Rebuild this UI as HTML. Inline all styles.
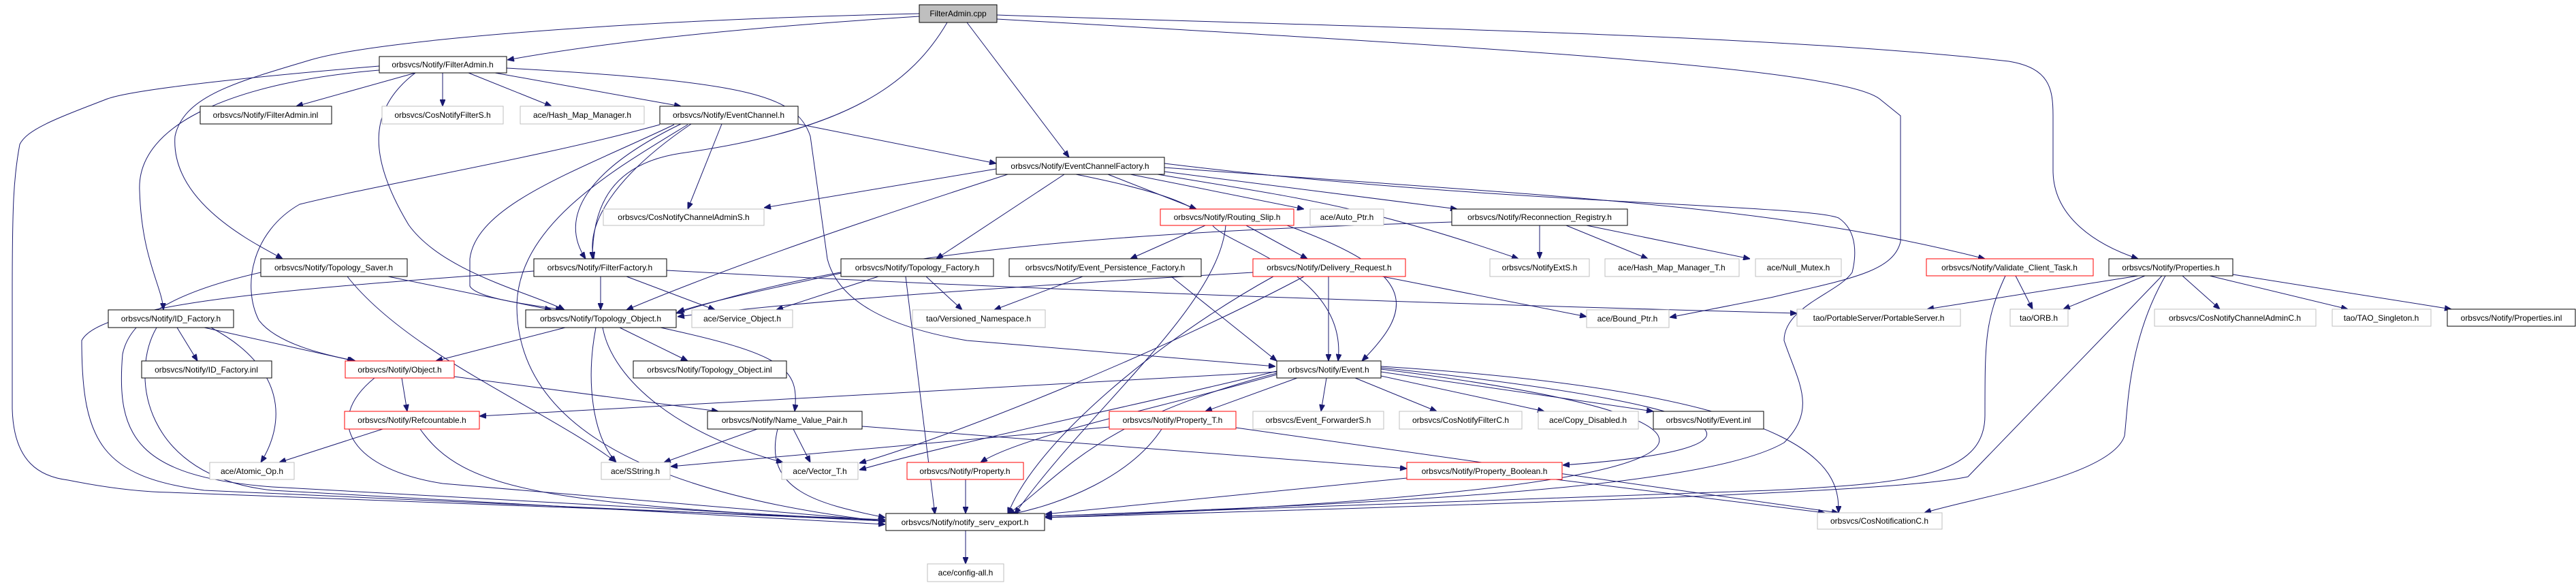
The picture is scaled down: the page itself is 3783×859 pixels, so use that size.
<!DOCTYPE html>
<html><head><meta charset="utf-8"><style>
html,body{margin:0;padding:0;background:#fff;}
svg{display:block;}
text{font-family:"Liberation Sans",sans-serif;font-size:12px;fill:#000;text-anchor:middle;}
.e{fill:none;stroke:#191970;stroke-width:1;}
.b{fill:#fff;stroke:#000;stroke-width:1;}
.g{fill:#fff;stroke:#bfbfbf;stroke-width:1;}
.r{fill:#fff;stroke:#ff0000;stroke-width:1;}
</style></head><body>
<svg width="3783" height="859" viewBox="0 0 3783 859" xmlns="http://www.w3.org/2000/svg">
<defs><marker id="a" markerWidth="10" markerHeight="8" refX="10" refY="4" orient="auto" markerUnits="userSpaceOnUse"><path d="M0,0 L10,4 L0,8 z" fill="#191970" stroke="#191970"/></marker></defs>
<g class="e" marker-end="url(#a)">
<!-- FilterAdmin.cpp -->
<path d="M1350,24 C1100,40 900,60 745,88"/>
<path d="M1350,20 C900,30 550,60 456,88 C350,120 270,140 257,200 C250,300 380,360 415,380"/>
<path d="M1420,33 L1570,231"/>
<path d="M1391,33 C1340,120 1250,190 1000,225 C900,240 870,300 870,380"/>
<path d="M1464,22 C2000,40 2600,50 2950,90 C3010,100 3015,130 3015,170 L3015,250 C3015,320 3080,360 3140,380"/>
<path d="M1464,28 C2200,70 2700,100 2760,145 L2791,170 L2791,355 C2780,400 2713,410 2600,437 L2452,466"/>
<!-- FilterAdmin.h -->
<path d="M610,107 L435,156"/>
<path d="M650,107 L650,156"/>
<path d="M688,107 L810,156"/>
<path d="M727,107 L1000,156"/>
<path d="M557,97 C400,110 200,130 158,145 C80,175 40,190 29,212 C20,260 18,300 18,430 L18,600 C20,680 60,700 100,705 C150,715 200,722 249,723 L1300,763"/>
<path d="M557,103 C350,120 200,180 205,280 C208,380 238,420 240,455"/>
<path d="M610,107 C540,160 540,230 600,330 C650,400 780,430 829,455"/>
<path d="M744,100 C1100,120 1170,140 1190,200 L1215,380 C1230,440 1300,480 1420,500 L1873,538"/>
<!-- EventChannel.h -->
<path d="M1172,182 L1463,240"/>
<path d="M1060,182 L1010,307"/>
<path d="M1000,182 C860,250 820,320 860,380"/>
<path d="M1015,182 C900,260 860,330 872,380"/>
<path d="M969,183 C800,230 560,270 440,300 C370,340 355,420 380,470 C410,510 500,525 522,530"/>
<path d="M990,183 C850,250 700,300 690,380 L690,420 C700,440 800,450 826,455"/>
<path d="M1010,183 C900,250 760,330 759,450 C760,600 900,720 1300,766"/>
<!-- EventChannelFactory.h -->
<path d="M1463,248 L1122,305"/>
<path d="M1480,256 C1250,330 1050,400 920,455"/>
<path d="M1563,256 L1375,380"/>
<path d="M1627,256 L1757,307"/>
<path d="M1660,256 L1915,307"/>
<path d="M1710,252 L2140,307"/>
<path d="M1700,256 C1900,290 2000,300 2230,380"/>
<path d="M1710,246 C2300,290 2600,300 2915,380"/>
<path d="M1580,256 C1700,280 1760,300 1780,330 C1800,360 1980,400 1965,530"/>
<path d="M1710,240 C2200,300 2650,300 2700,320 C2730,340 2725,380 2720,400 C2700,430 2620,450 2620,500 C2640,560 2670,600 2620,650 C2500,720 2000,740 1535,758"/>
<!-- Reconnection_Registry.h -->
<path d="M2261,331 L2261,380"/>
<path d="M2300,331 L2420,380"/>
<path d="M2330,331 L2570,380"/>
<path d="M2132,326 C1700,340 1300,360 993,460"/>
<!-- Routing_Slip.h -->
<path d="M1770,331 L1660,380"/>
<path d="M1830,331 L1920,380"/>
<path d="M1890,331 C2080,400 2080,450 2000,530"/>
<path d="M1800,331 C1790,450 1600,600 1490,755"/>
<!-- Topology_Factory.h -->
<path d="M1360,406 L1413,455"/>
<path d="M1240,400 C1150,420 1050,440 995,458"/>
<path d="M1290,406 L1140,455"/>
<path d="M1330,406 L1373,755"/>
<!-- Event_Persistence_Factory.h -->
<path d="M1590,406 L1460,455"/>
<path d="M1720,406 L1875,530"/>
<!-- Delivery_Request.h -->
<path d="M1951,406 L1951,530"/>
<path d="M2030,406 L2330,465"/>
<path d="M1840,400 C1500,420 1200,440 995,465"/>
<path d="M1870,406 C1700,500 1520,650 1480,755"/>
<path d="M1915,406 C1700,520 1400,640 1262,680"/>
<!-- Topology_Saver.h -->
<path d="M570,406 L810,455"/>
<path d="M383,400 C250,430 190,470 180,520 C170,640 200,700 400,715 L1300,765"/>
<path d="M510,406 C600,520 800,600 904,678"/>
<!-- FilterFactory.h -->
<path d="M882,406 L882,455"/>
<path d="M920,406 L1050,455"/>
<path d="M784,398 C500,420 150,440 120,500 C120,650 150,700 300,720 L1300,765"/>
<path d="M979,397 C1400,420 1900,440 2639,460"/>
<!-- ID_Factory.h -->
<path d="M260,481 L290,530"/>
<path d="M300,481 L520,530"/>
<path d="M310,481 C420,540 420,620 383,679"/>
<path d="M230,481 C190,550 210,700 400,720 L1300,770"/>
<!-- Topology_Object.h -->
<path d="M830,481 L640,530"/>
<path d="M910,481 L1010,530"/>
<path d="M970,481 C1150,520 1175,540 1167,604"/>
<path d="M875,481 C860,560 870,640 905,679"/>
<path d="M885,481 C900,560 1000,640 1150,679"/>
<!-- Object.h -->
<path d="M590,555 L598,604"/>
<path d="M667,553 L1055,604"/>
<path d="M550,555 C470,620 520,690 650,710 L1300,765"/>
<!-- Refcountable.h -->
<path d="M562,630 L410,679"/>
<path d="M617,630 C680,720 800,740 1300,765"/>
<!-- Name_Value_Pair.h -->
<path d="M1112,630 L975,679"/>
<path d="M1165,630 L1190,679"/>
<path d="M1142,630 C1120,720 1200,740 1300,760"/>
<path d="M1266,626 L2066,688"/>
<!-- Event.h -->
<path d="M1875,546 L704,611"/>
<path d="M1905,555 L1770,604"/>
<path d="M1948,555 L1940,604"/>
<path d="M1990,555 L2110,604"/>
<path d="M2028,552 L2268,604"/>
<path d="M2028,546 L2428,604"/>
<path d="M1875,550 C1700,600 1500,640 1440,679"/>
<path d="M1875,548 C1600,620 1560,700 1480,755"/>
<path d="M1875,545 C1650,600 1400,650 1262,690"/>
<path d="M2028,540 C2600,600 2620,660 2295,683"/>
<path d="M2028,538 C2700,580 2700,700 2700,753"/>
<path d="M2028,542 C2650,620 2620,720 1535,760"/>
<!-- Property_T.h -->
<path d="M1629,627 L985,685"/>
<path d="M1706,630 C1660,700 1560,740 1485,755"/>
<path d="M1815,628 L2700,753"/>
<!-- Property.h / Property_Boolean -->
<path d="M1418,704 L1418,754"/>
<path d="M2066,702 L1535,755"/>
<path d="M2285,704 L2680,753"/>
<!-- Validate_Client_Task.h -->
<path d="M2960,405 L2985,454"/>
<path d="M2945,405 C2915,470 2915,500 2915,610 C2915,700 2800,710 2600,720 L1535,758"/>
<!-- Properties.h -->
<path d="M3140,405 L2830,454"/>
<path d="M3150,405 L3030,454"/>
<path d="M3205,405 L3260,454"/>
<path d="M3245,405 L3448,454"/>
<path d="M3279,403 L3600,454"/>
<path d="M3175,405 L2890,700 C2800,720 2400,735 1535,760"/>
<path d="M3180,405 C3125,500 3125,600 3120,640 C3100,700 2900,730 2826,753"/>
<!-- notify_serv_export -->
<path d="M1418,779 L1418,828"/>
</g>
<!-- nodes -->
<rect x="1350" y="7" width="114" height="26" fill="#bfbfbf" stroke="#000"/><text x="1407" y="24">FilterAdmin.cpp</text>
<rect class="b" x="557" y="83" width="187" height="24"/><text x="650" y="99">orbsvcs/Notify/FilterAdmin.h</text>
<rect class="b" x="294" y="156" width="193" height="26"/><text x="390" y="173">orbsvcs/Notify/FilterAdmin.inl</text>
<rect class="g" x="561" y="156" width="178" height="26"/><text x="650" y="173">orbsvcs/CosNotifyFilterS.h</text>
<rect class="g" x="764" y="156" width="182" height="26"/><text x="855" y="173">ace/Hash_Map_Manager.h</text>
<rect class="b" x="969" y="156" width="203" height="26"/><text x="1070" y="173">orbsvcs/Notify/EventChannel.h</text>
<rect class="b" x="1463" y="231" width="247" height="25"/><text x="1586" y="248">orbsvcs/Notify/EventChannelFactory.h</text>
<rect class="g" x="886" y="307" width="236" height="24"/><text x="1004" y="323">orbsvcs/CosNotifyChannelAdminS.h</text>
<rect class="r" x="1704" y="307" width="196" height="24"/><text x="1802" y="323">orbsvcs/Notify/Routing_Slip.h</text>
<rect class="g" x="1924" y="307" width="108" height="24"/><text x="1978" y="323">ace/Auto_Ptr.h</text>
<rect class="b" x="2132" y="307" width="258" height="24"/><text x="2261" y="323">orbsvcs/Notify/Reconnection_Registry.h</text>
<rect class="b" x="383" y="380" width="215" height="26"/><text x="490" y="397">orbsvcs/Notify/Topology_Saver.h</text>
<rect class="b" x="784" y="380" width="195" height="26"/><text x="881" y="397">orbsvcs/Notify/FilterFactory.h</text>
<rect class="b" x="1235" y="380" width="224" height="26"/><text x="1347" y="397">orbsvcs/Notify/Topology_Factory.h</text>
<rect class="b" x="1482" y="380" width="282" height="26"/><text x="1623" y="397">orbsvcs/Notify/Event_Persistence_Factory.h</text>
<rect class="r" x="1840" y="380" width="224" height="26"/><text x="1952" y="397">orbsvcs/Notify/Delivery_Request.h</text>
<rect class="g" x="2188" y="380" width="146" height="26"/><text x="2261" y="397">orbsvcs/NotifyExtS.h</text>
<rect class="g" x="2357" y="380" width="197" height="26"/><text x="2455" y="397">ace/Hash_Map_Manager_T.h</text>
<rect class="g" x="2578" y="380" width="126" height="26"/><text x="2641" y="397">ace/Null_Mutex.h</text>
<rect class="r" x="2829" y="380" width="245" height="25"/><text x="2951" y="397">orbsvcs/Notify/Validate_Client_Task.h</text>
<rect class="b" x="3097" y="380" width="182" height="25"/><text x="3188" y="397">orbsvcs/Notify/Properties.h</text>
<rect class="b" x="159" y="455" width="184" height="26"/><text x="251" y="472">orbsvcs/Notify/ID_Factory.h</text>
<rect class="b" x="772" y="455" width="221" height="26"/><text x="882" y="472">orbsvcs/Notify/Topology_Object.h</text>
<rect class="g" x="1016" y="455" width="148" height="26"/><text x="1090" y="472">ace/Service_Object.h</text>
<rect class="g" x="1340" y="455" width="195" height="26"/><text x="1437" y="472">tao/Versioned_Namespace.h</text>
<rect class="g" x="2330" y="455" width="121" height="26"/><text x="2390" y="472">ace/Bound_Ptr.h</text>
<rect class="g" x="2639" y="454" width="240" height="25"/><text x="2759" y="471">tao/PortableServer/PortableServer.h</text>
<rect class="g" x="2952" y="454" width="85" height="25"/><text x="2994" y="471">tao/ORB.h</text>
<rect class="g" x="3164" y="454" width="237" height="25"/><text x="3282" y="471">orbsvcs/CosNotifyChannelAdminC.h</text>
<rect class="g" x="3425" y="454" width="145" height="25"/><text x="3497" y="471">tao/TAO_Singleton.h</text>
<rect class="b" x="3594" y="454" width="188" height="25"/><text x="3688" y="471">orbsvcs/Notify/Properties.inl</text>
<rect class="b" x="208" y="530" width="191" height="25"/><text x="303" y="547">orbsvcs/Notify/ID_Factory.inl</text>
<rect class="r" x="507" y="530" width="160" height="25"/><text x="587" y="547">orbsvcs/Notify/Object.h</text>
<rect class="b" x="930" y="530" width="225" height="25"/><text x="1042" y="547">orbsvcs/Notify/Topology_Object.inl</text>
<rect class="b" x="1875" y="530" width="153" height="25"/><text x="1951" y="547">orbsvcs/Notify/Event.h</text>
<rect class="r" x="506" y="604" width="198" height="26"/><text x="605" y="621">orbsvcs/Notify/Refcountable.h</text>
<rect class="b" x="1039" y="604" width="227" height="26"/><text x="1152" y="621">orbsvcs/Notify/Name_Value_Pair.h</text>
<rect class="r" x="1629" y="604" width="186" height="26"/><text x="1722" y="621">orbsvcs/Notify/Property_T.h</text>
<rect class="g" x="1840" y="604" width="192" height="26"/><text x="1936" y="621">orbsvcs/Event_ForwarderS.h</text>
<rect class="g" x="2055" y="604" width="180" height="26"/><text x="2145" y="621">orbsvcs/CosNotifyFilterC.h</text>
<rect class="g" x="2259" y="604" width="147" height="26"/><text x="2332" y="621">ace/Copy_Disabled.h</text>
<rect class="b" x="2428" y="604" width="162" height="26"/><text x="2509" y="621">orbsvcs/Notify/Event.inl</text>
<rect class="g" x="308" y="679" width="124" height="25"/><text x="370" y="696">ace/Atomic_Op.h</text>
<rect class="g" x="883" y="679" width="101" height="25"/><text x="933" y="696">ace/SString.h</text>
<rect class="g" x="1148" y="679" width="112" height="25"/><text x="1204" y="696">ace/Vector_T.h</text>
<rect class="r" x="1332" y="679" width="171" height="25"/><text x="1417" y="696">orbsvcs/Notify/Property.h</text>
<rect class="r" x="2066" y="679" width="228" height="25"/><text x="2180" y="696">orbsvcs/Notify/Property_Boolean.h</text>
<rect class="b" x="1301" y="754" width="233" height="25"/><text x="1417" y="771">orbsvcs/Notify/notify_serv_export.h</text>
<rect class="g" x="2669" y="753" width="183" height="24"/><text x="2760" y="769">orbsvcs/CosNotificationC.h</text>
<rect class="g" x="1362" y="828" width="112" height="26"/><text x="1418" y="845">ace/config-all.h</text>
</svg>
</body></html>
